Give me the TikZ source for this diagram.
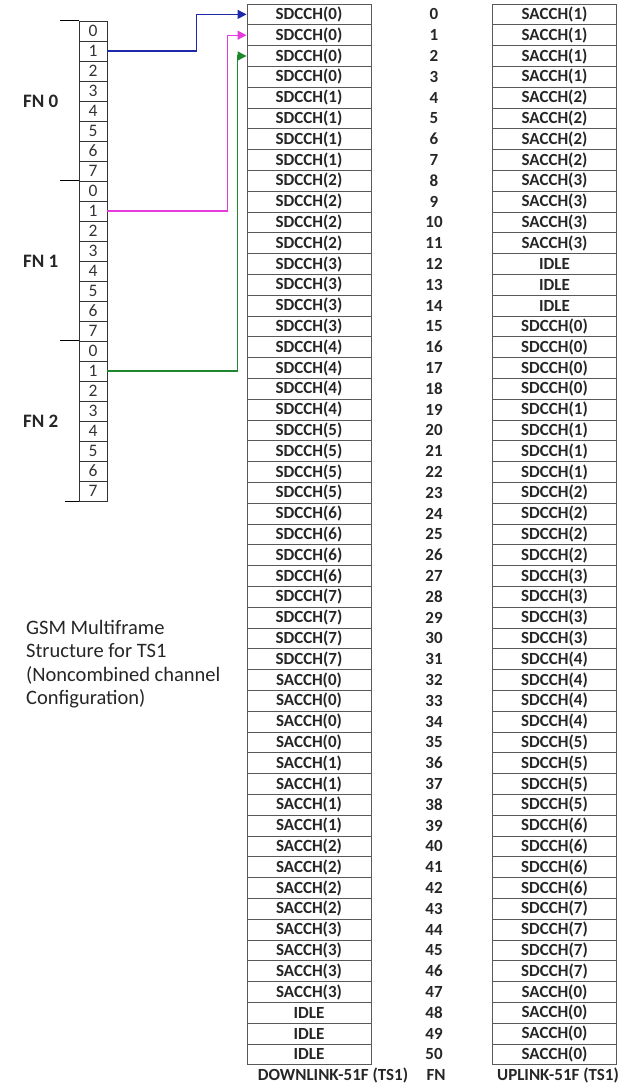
\documentclass[tikz,border=0pt]{standalone}
\usepackage{fontspec}
\setmainfont{Carlito}
\usetikzlibrary{arrows.meta,positioning}
\definecolor{linkblue}{RGB}{30,40,170}
\definecolor{linkmag}{RGB}{228,60,220}
\definecolor{linkgreen}{RGB}{30,135,45}

\begin{document}
\begin{tikzpicture}[
    x=1pt, y=-1pt,
    cell/.style={draw=black!65, line width=0.9pt, minimum width=124pt, minimum height=20.8pt, inner sep=0pt, font=\fontsize{17}{19}\selectfont\bfseries, text=black!85},
    fnnum/.style={inner sep=0pt, font=\fontsize{17}{19}\selectfont\bfseries, text=black!85},
    slot/.style={draw=black!80, line width=0.9pt, minimum width=28pt, minimum height=20pt, inner sep=0pt, font=\fontsize{17.5}{19}\selectfont, text=black!80},
    fnlab/.style={inner sep=0pt, font=\fontsize{19}{21}\selectfont\bfseries, text=black!85},
    arr/.style={-{Triangle[length=9pt,width=9pt]}, line width=1.4pt}
]
    \useasboundingbox (0,0) rectangle (630,1084);

    % downlink, FN and uplink columns
    \foreach \r in {0,...,50} {
        \pgfmathtruncatemacro\g{floor(\r/4)}
        \ifnum\g<8 \def\lab{SDCCH(\g)}\else
            \ifnum\g<12 \pgfmathtruncatemacro\k{\g-8}\def\lab{SACCH(\k)}\else\def\lab{IDLE}\fi\fi
        \node[cell] (dl\r) at (309, {14.4+20.8*\r}) {\lab};
        \node[fnnum] (fn\r) at (434, {14.4+20.8*\r}) {\r};
        \ifnum\r<12 \pgfmathtruncatemacro\k{floor(\r/4)+1}\def\lab{SACCH(\k)}\else
            \ifnum\r<15 \def\lab{IDLE}\else
                \ifnum\r<47 \pgfmathtruncatemacro\k{floor((\r-15)/4)}\def\lab{SDCCH(\k)}\else
                    \def\lab{SACCH(0)}\fi\fi\fi
        \node[cell] (ul\r) at (554.5, {14.4+20.8*\r}) {\lab};
    }

    % timeslots of FN 0..2
    \foreach \r in {0,...,23} {
        \pgfmathtruncatemacro\d{mod(\r,8)}
        \node[slot] (s\r) at (93, {31+20*\r}) {\d};
    }
    \draw[line width=0.9pt] (s0.north west) -- ++(-19,0);
    \draw[line width=0.9pt] (s8.north west) -- ++(-19,0);
    \draw[line width=0.9pt] (s16.north west) -- ++(-19,0);
    \draw[line width=0.9pt] (s23.south west) -- ++(-14,0);

    \node[fnlab, left=20pt of s3.south west] (fnA) {FN 0};
    \node[fnlab, left=20pt of s11.south west] (fnB) {FN 1};
    \node[fnlab, left=20pt of s19.south west] (fnC) {FN 2};

    \node[inner sep=0pt, anchor=north west, align=left, text=black!85,
          font=\fontsize{20.5}{23.5}\selectfont] (title) at (26,620)
        {GSM Multiframe\\Structure for TS1\\(Noncombined channel\\Configuration)};

    \node[fnnum] (dlcap) at (333,1075) {DOWNLINK-51F (TS1)};
    \node[fnnum] (fncap) at (436,1075) {FN};
    \node[fnnum] (ulcap) at (558,1075) {UPLINK-51F (TS1)};

    \draw[arr, linkblue] (s1.east) -- ++(89,0) |- (dl0.west);
    \draw[arr, linkmag] (s9.east) -- ++(120,0) |- (dl1.west);
    \draw[arr, linkgreen] (s17.east) -- ++(130,0) |- (dl2.west);
\end{tikzpicture}
\end{document}
